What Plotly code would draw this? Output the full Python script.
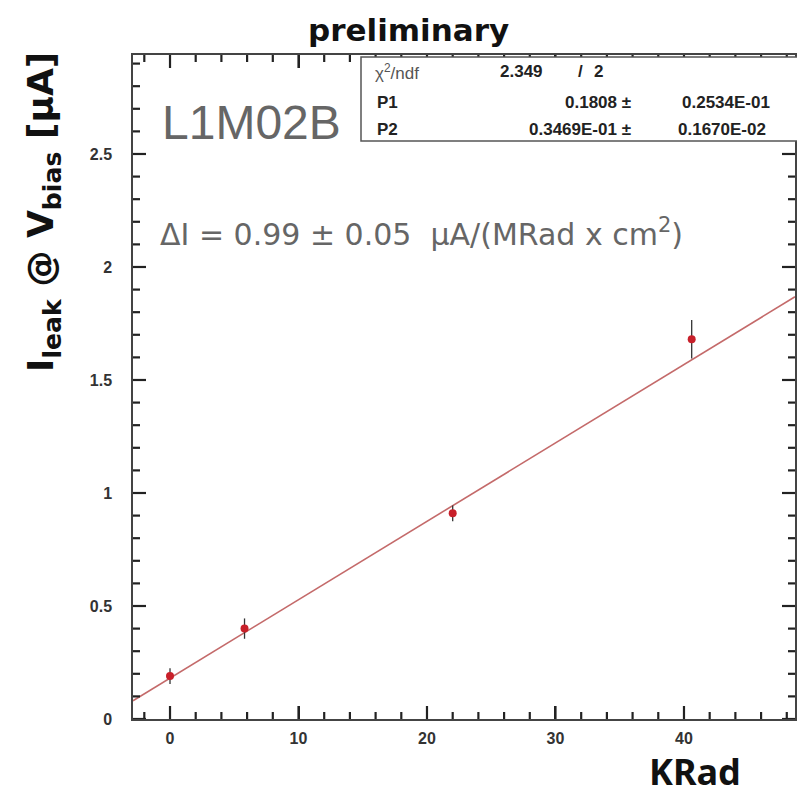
import numpy as np
import plotly.graph_objects as go

# ---- data ----
dose_krad = [0.0, 5.8, 22.0, 40.6]
ileak_ua = [0.19, 0.40, 0.91, 1.68]
ileak_err = [0.035, 0.045, 0.035, 0.085]
fit_p1 = 0.1808
fit_p2 = 0.03469
x_range = [-2.88, 48.64]
y_range = [0.0, 2.938]
x_major, x_minor = 10, 2
y_major, y_minor = 0.5, 0.1

W, H = 797, 795
L, R, T, B = 133, 2, 55, 76
PW, PH = W - L - R, H - T - B
MAJ_LEN, MIN_LEN = 13, 7


def px(x):
    return (x - L) / PW


def py(y):
    return (H - B - y) / PH


fig = go.Figure()

xf = np.linspace(x_range[0], x_range[1], 50)
fig.add_trace(go.Scatter(x=xf.tolist(), y=(fit_p1 + fit_p2 * xf).tolist(), mode="lines",
                         line=dict(color="#c46a6a", width=1.6),
                         hoverinfo="skip", showlegend=False))
fig.add_trace(go.Scatter(x=dose_krad, y=ileak_ua, mode="markers",
                         marker=dict(color="#c8202a", size=8, symbol="circle"),
                         error_y=dict(type="data", array=ileak_err, color="#333",
                                      thickness=1.3, width=0),
                         showlegend=False))

# inside tick marks on all four sides (ROOT frame style)
x_per_px = (x_range[1] - x_range[0]) / PW
y_per_px = (y_range[1] - y_range[0]) / PH
tx, ty = [], []
for v in np.arange(np.ceil(x_range[0] / x_minor) * x_minor, x_range[1], x_minor):
    v = float(v)
    ln = (MAJ_LEN if abs(v / x_major - round(v / x_major)) < 1e-6 else MIN_LEN) * y_per_px
    tx += [v, v, None, v, v, None]
    ty += [y_range[0], y_range[0] + ln, None, y_range[1], y_range[1] - ln, None]
for v in np.arange(np.ceil(y_range[0] / y_minor) * y_minor, y_range[1], y_minor):
    v = float(v)
    ln = (MAJ_LEN if abs(v / y_major - round(v / y_major)) < 1e-6 else MIN_LEN) * x_per_px
    tx += [x_range[0], x_range[0] + ln, None, x_range[1], x_range[1] - ln, None]
    ty += [v, v, None, v, v, None]
fig.add_trace(go.Scatter(x=tx, y=ty, mode="lines", line=dict(color="#222", width=2.2),
                         connectgaps=False, hoverinfo="skip", showlegend=False))

axis_common = dict(showline=True, linecolor="#444", linewidth=1.5, mirror="allticks",
                   ticks="inside", ticklen=MAJ_LEN, tickwidth=2, tickcolor="#222",
                   showgrid=False, zeroline=False, tickmode="linear", tick0=0,
                   ticklabelstandoff=4,
                   tickfont=dict(family="Liberation Sans", size=16, color="#333", weight="bold"))

fig.update_xaxes(range=x_range, dtick=x_major, **axis_common)
fig.update_yaxes(range=y_range, dtick=y_major, **axis_common)
fig.update_yaxes(ticklabelstandoff=16)

# stats box
fig.add_shape(type="rect", xref="paper", yref="paper",
              x0=px(361), x1=px(805), y0=py(141), y1=py(57),
              line=dict(color="#555", width=1.5), fillcolor="white", layer="above")

anns = []


def txt(x, y, s, size=14, color="#222", xanchor="left", family="Liberation Sans",
        weight="bold", angle=0):
    anns.append(dict(x=px(x), y=py(y), xref="paper", yref="paper", text=s, showarrow=False,
                     xanchor=xanchor, yanchor="middle", textangle=angle,
                     font=dict(family=family, size=size, color=color, weight=weight)))


txt(373, 72, "χ<sup>2</sup>/ndf", size=17, weight="normal", color="#555")
txt(545, 72, "2.349", size=17, xanchor="right")
txt(580, 72, "/", size=17, xanchor="center")
txt(598, 72, "2", size=17, xanchor="center")
txt(375, 102, "P1", size=17)
txt(633, 102, "0.1808 ±", size=17, xanchor="right")
txt(680, 102, "0.2534E-01", size=17)
txt(375, 129, "P2", size=17)
txt(633, 129, "0.3469E-01 ±", size=17, xanchor="right")
txt(676, 129, "0.1670E-02", size=17)

txt(160, 122, "L1M02B", size=48, weight="normal", color="#666")
txt(158, 232, "ΔI = 0.99 ± 0.05  μA/(MRad x cm<sup>2</sup>)", size=30, weight="normal",
    family="DejaVu Sans", color="#666")

txt(408, 30, "preliminary", size=31, family="DejaVu Sans", color="#111", xanchor="center")
txt(695, 772, "KRad", size=36, family="Noto Sans", color="#111", xanchor="center")
txt(43, 212, "I<sub>leak</sub> @ V<sub>bias</sub> [μA]", size=36, family="DejaVu Sans",
    color="#111", xanchor="center", angle=-90)

fig.update_layout(template="none", width=W, height=H, margin=dict(l=L, r=R, t=T, b=B),
                  paper_bgcolor="white", plot_bgcolor="white", annotations=anns)

fig.write_html("out.html")
